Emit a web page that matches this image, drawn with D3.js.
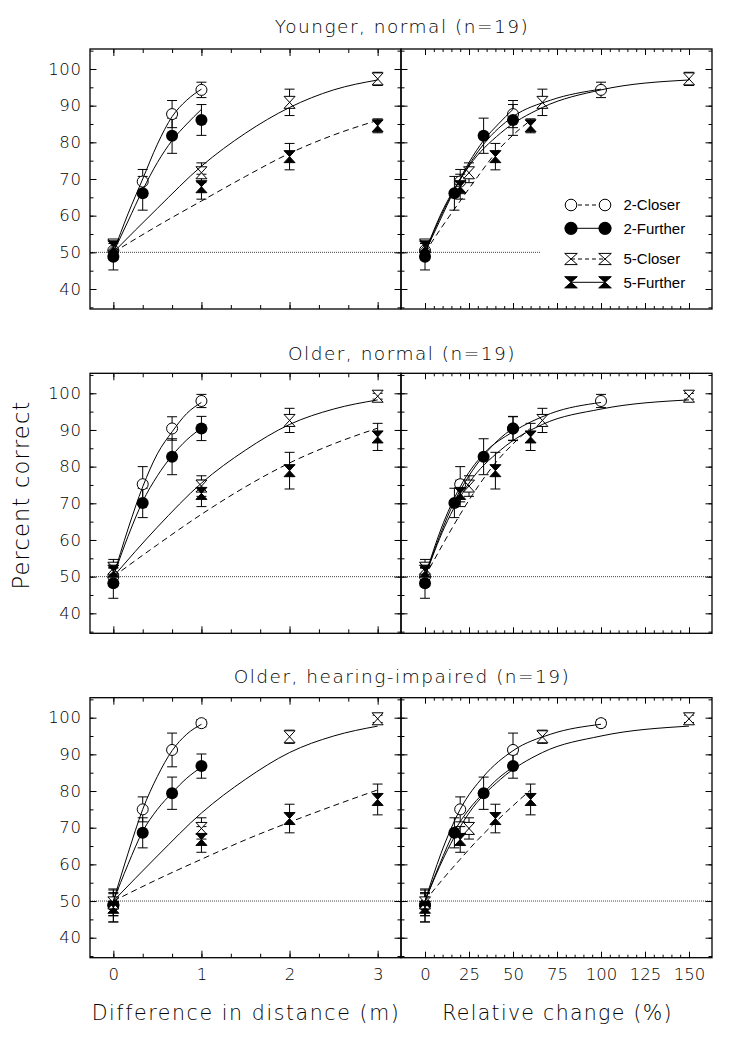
<!DOCTYPE html>
<html><head><meta charset="utf-8">
<script src="https://cdn.jsdelivr.net/npm/d3@7"></script>
<style>
body{margin:0;background:#fff;}
svg text{font-family:"DejaVu Sans",sans-serif;font-weight:200;fill:#000;}
svg text.leg{font-family:"Liberation Sans",Arial,sans-serif;font-weight:400;}
</style></head><body>
<svg id="c" width="732" height="1048"></svg>
<script>
// ---------------- DATA ----------------
const groupTitles = ["Younger, normal (n=19)", "Older, normal (n=19)", "Older, hearing-impaired (n=19)"];
const seriesNames = ["2-Closer", "2-Further", "5-Closer", "5-Further"];

// x positions of the points (left: distance in m, right: relative change in %)
const distX2 = [0, 1/3, 2/3, 1];
const distX5 = [0, 1, 2, 3];
const relX2Closer = [0, 20, 50, 100];
const relX2Further = [0, 16.7, 33.3, 50];
const relX5Closer = [0, 25, 66.7, 150];
const relX5Further = [0, 20, 40, 60];

// percent correct per series [2-Closer, 2-Further, 5-Closer, 5-Further]
const youngY   = [[50.5, 69.3, 87.7, 94.3], [48.8, 66.1, 81.8, 86.1], [52.0, 71.7, 90.9, 97.3], [51.5, 67.9, 76.1, 84.5]];
const youngErr = [[2.5, 3.3, 3.7, 2.1], [3.6, 4.6, 4.8, 4.2], [1.4, 2.7, 3.6, 1.8], [1.5, 3.4, 3.6, 1.9]];
const olderY   = [[50.0, 75.2, 90.4, 97.9], [48.2, 70.1, 82.7, 90.4], [52.3, 74.7, 92.6, 99.2], [51.5, 72.7, 78.9, 88.1]];
const olderErr = [[2.5, 4.8, 3.2, 1.8], [4.1, 4.0, 4.9, 3.3], [2.4, 2.8, 3.3, 0.8], [2.0, 3.6, 5.0, 3.7]];
const hiY      = [[49.0, 75.0, 91.2, 98.5], [48.8, 68.6, 79.4, 86.8], [49.5, 69.8, 94.8, 99.7], [48.3, 66.8, 72.5, 77.7]];
const hiErr    = [[3.0, 3.4, 4.6, 1.0], [4.5, 4.1, 4.4, 3.3], [3.5, 2.9, 1.8, 1.0], [4.0, 3.5, 3.9, 4.2]];

// fitted curves at sample positions
const fitDist2 = [0, 1/6, 1/3, 1/2, 2/3, 5/6, 1];
const fitDist5 = [0, 0.5, 1, 1.5, 2, 2.5, 3];
const fitRel2Closer = [0, 9.1, 20, 33.3, 50, 71.4, 100];
const fitRel2Further = [0, 8.3, 16.7, 25, 33.3, 41.7, 50];
const fitRel5Closer = [0, 11.1, 25, 42.9, 66.7, 100, 150];
const fitRel5Further = [0, 10, 20, 30, 40, 50, 60];
const youngFit = [[50, 60.5, 70, 79.5, 87, 91.5, 94.5], [50, 58.5, 67, 74.5, 80.5, 85, 89], [50, 62, 73.5, 82.5, 89.5, 94.3, 97], [50, 57.2, 64, 70.7, 77, 82, 86]];
const olderFit = [[50, 63, 74.5, 83.5, 89.5, 94.5, 97.5], [50, 61, 70.5, 77.5, 83, 87.3, 90.5], [50, 63.5, 75.5, 84.5, 91.5, 95.7, 98.2], [50, 58.7, 67, 74.5, 81, 86.2, 90.5]];
const hiFit    = [[50, 63, 75, 84, 91, 95.5, 98.2], [50, 60, 69, 75, 79.5, 83.5, 86.5], [50, 62.3, 74, 83.2, 90.5, 95, 97.7], [50, 55.9, 61.4, 66.7, 71.5, 76, 80.3]];

const yTicks = [40, 50, 60, 70, 80, 90, 100];
const yMinor = d3.range(35, 105.1, 5);
const distTicks = [0, 1, 2, 3];
const distMinor = d3.range(0, 10).map(i => i / 3);
const relTicks = [0, 25, 50, 75, 100, 125, 150];
const relMinor = d3.range(0, 151, 5);
const chanceLevel = 50;

// ---------------- LAYOUT ----------------
const svg = d3.select("#c");
const panelTops = [49, 373.3, 697.7];
const PH = 260;
const L0 = 90, MID = 401, R1 = 712;
const xLeft = d3.scaleLinear().domain([-0.265, 3.265]).range([L0, MID]);
const xRight = d3.scaleLinear().domain([-13.64, 163.07]).range([MID, R1]);

const groupY = [youngY, olderY, hiY];
const groupErr = [youngErr, olderErr, hiErr];
const groupFit = [youngFit, olderFit, hiFit];
const titleBase = [33.3, 360, 682.7];

const fitStyle = [null, null, null, "6,4"];
const markerKind = ["oc", "fc", "oh", "fh"];

function hourglass(w, h) { return `M${-w},${-h}H${w}L${-w},${h}H${w}Z`; }
function drawMarker(g, kind, x, y, big) {
  if (kind === "oc") g.append("circle").attr("cx", x).attr("cy", y).attr("r", big ? 5.8 : 5.5).attr("fill", "#fff").attr("stroke", "#000").attr("stroke-width", 1);
  else if (kind === "fc") g.append("circle").attr("cx", x).attr("cy", y).attr("r", big ? 6.6 : 6).attr("fill", "#000");
  else g.append("path").attr("transform", `translate(${x},${y})`).attr("d", big ? hourglass(6.3, 5.6) : hourglass(5.5, 6))
      .attr("fill", kind === "oh" ? "#fff" : "#000").attr("stroke", "#000").attr("stroke-width", 1).attr("stroke-linejoin", "miter");
}

groupTitles.forEach((title, gi) => {
  const top = panelTops[gi];
  const y = d3.scaleLinear().domain([34.55, 105.45]).range([top + PH, top]);
  const G = svg.append("g");

  G.append("text").attr("x", 402).attr("y", titleBase[gi]).attr("text-anchor", "middle")
    .style("font-size", "18.5px").style("letter-spacing", "1.5px").text(title);

  const sides = [
    { x: xLeft, x0: L0, x1: MID, px: [distX2, distX2, distX5, distX5], fx: [fitDist2, fitDist2, fitDist5, fitDist5], maj: distTicks, min: distMinor, chanceEnd: MID },
    { x: xRight, x0: MID, x1: R1, px: [relX2Closer, relX2Further, relX5Closer, relX5Further], fx: [fitRel2Closer, fitRel2Further, fitRel5Closer, fitRel5Further], maj: relTicks, min: relMinor, chanceEnd: gi === 0 ? 540 : R1 }
  ];

  sides.forEach((sd, si) => {
    const P = G.append("g");
    // chance line
    P.append("line").attr("x1", sd.x0).attr("x2", sd.chanceEnd).attr("y1", y(chanceLevel)).attr("y2", y(chanceLevel))
      .attr("stroke", "#444").attr("stroke-width", 1).attr("stroke-dasharray", "1,1");

    // ticks (inward)
    const majLen = si === 0 ? 7 : 6, minLen = si === 0 ? 4 : 3;
    const tickG = P.append("g").attr("class", "ticks");
    tickG.append("g").attr("transform", `translate(0,${top + PH})`).call(d3.axisBottom(sd.x).tickValues(sd.min).tickSize(-minLen).tickFormat(""));
    tickG.append("g").attr("transform", `translate(0,${top + PH})`).call(d3.axisBottom(sd.x).tickValues(sd.maj).tickSize(-majLen).tickFormat(""));
    tickG.append("g").attr("transform", `translate(0,${top})`).call(d3.axisTop(sd.x).tickValues(sd.min).tickSize(-minLen).tickFormat(""));
    tickG.append("g").attr("transform", `translate(0,${top})`).call(d3.axisTop(sd.x).tickValues(sd.maj).tickSize(-majLen).tickFormat(""));
    tickG.append("g").attr("transform", `translate(${sd.x0},0)`).call(d3.axisLeft(y).tickValues(yMinor).tickSize(-3.5).tickFormat(""));
    tickG.append("g").attr("transform", `translate(${sd.x0},0)`).call(d3.axisLeft(y).tickValues(yTicks).tickSize(-6.5).tickFormat(""));
    tickG.append("g").attr("transform", `translate(${sd.x1},0)`).call(d3.axisRight(y).tickValues(yMinor).tickSize(-3.5).tickFormat(""));
    tickG.append("g").attr("transform", `translate(${sd.x1},0)`).call(d3.axisRight(y).tickValues(yTicks).tickSize(-6.5).tickFormat(""));
    tickG.selectAll(".domain").remove();
    tickG.selectAll("line").attr("stroke", "#000").attr("stroke-width", 1);

    if (si === 0) {
      const yl = P.append("g").attr("transform", `translate(${sd.x0},0)`)
        .call(d3.axisLeft(y).tickValues(yTicks).tickFormat(d3.format("d")).tickSize(0).tickPadding(8.5));
      yl.select(".domain").remove();
      yl.selectAll("text").style("font-size", "16.5px").style("font-family", "DejaVu Sans").style("letter-spacing", "0.6px").attr("fill", "#000");
    }
    if (gi === 2) {
      const xl = P.append("g").attr("transform", `translate(0,${top + PH})`)
        .call(d3.axisBottom(sd.x).tickValues(sd.maj).tickFormat(d3.format("d")).tickSize(0).tickPadding(10.5));
      xl.select(".domain").remove();
      xl.selectAll("text").style("font-size", "16.5px").style("font-family", "DejaVu Sans").attr("fill", "#000");
    }

    const ys = groupY[gi], es = groupErr[gi], fs = groupFit[gi];
    // error bars
    seriesNames.forEach((nm, k) => {
      sd.px[k].forEach((xv, i) => {
        const cx = sd.x(xv), yt = y(ys[k][i] + es[k][i]), yb = y(ys[k][i] - es[k][i]);
        P.append("line").attr("x1", cx).attr("x2", cx).attr("y1", yt).attr("y2", yb).attr("stroke", "#000").attr("stroke-width", 1);
        P.append("line").attr("x1", cx - 5).attr("x2", cx + 5).attr("y1", yt).attr("y2", yt).attr("stroke", "#000").attr("stroke-width", 1);
        P.append("line").attr("x1", cx - 5).attr("x2", cx + 5).attr("y1", yb).attr("y2", yb).attr("stroke", "#000").attr("stroke-width", 1);
      });
    });
    // markers
    seriesNames.forEach((nm, k) => {
      sd.px[k].forEach((xv, i) => drawMarker(P, markerKind[k], sd.x(xv), y(ys[k][i])));
    });
    // fitted curves
    const line = d3.line().x(d => sd.x(d[0])).y(d => y(d[1])).curve(d3.curveMonotoneX);
    seriesNames.forEach((nm, k) => {
      const pts = sd.fx[k].map((xv, i) => [xv, fs[k][i]]);
      P.append("path").attr("d", line(pts)).attr("fill", "none").attr("stroke", "#000").attr("stroke-width", 1)
        .attr("stroke-dasharray", fitStyle[k]);
    });
  });

  // frames
  G.append("rect").attr("x", L0).attr("y", top).attr("width", MID - L0).attr("height", PH).attr("fill", "none").attr("stroke", "#000").attr("stroke-width", 1.3);
  G.append("rect").attr("x", MID).attr("y", top).attr("width", R1 - MID).attr("height", PH).attr("fill", "none").attr("stroke", "#000").attr("stroke-width", 1.3);
});

// legend (top-right panel)
const legRowY = [205, 228.3, 259, 282.3];
const legDash = ["4,3", null, "4,3", null];
const legG = svg.append("g");
seriesNames.forEach((nm, k) => {
  const ly = legRowY[k];
  legG.append("line").attr("x1", 571).attr("x2", 605).attr("y1", ly).attr("y2", ly).attr("stroke", "#000").attr("stroke-width", 1).attr("stroke-dasharray", legDash[k]);
  drawMarker(legG, markerKind[k], 571, ly, true);
  drawMarker(legG, markerKind[k], 605, ly, true);
  legG.append("text").attr("class", "leg").attr("x", 623.5).attr("y", ly).attr("dy", "0.36em").style("font-size", "15px").text(nm);
});

// axis titles
svg.append("text").attr("x", 246).attr("y", 1020).attr("text-anchor", "middle").style("font-size", "20.5px").style("letter-spacing", "1.6px").text("Difference in distance (m)");
svg.append("text").attr("x", 557.5).attr("y", 1020).attr("text-anchor", "middle").style("font-size", "20.5px").style("letter-spacing", "1.3px").text("Relative change (%)");
svg.append("text").attr("transform", "translate(29,495) rotate(-90)").attr("text-anchor", "middle").style("font-size", "22.5px").style("letter-spacing", "1.2px").text("Percent correct");
</script>
</body></html>
